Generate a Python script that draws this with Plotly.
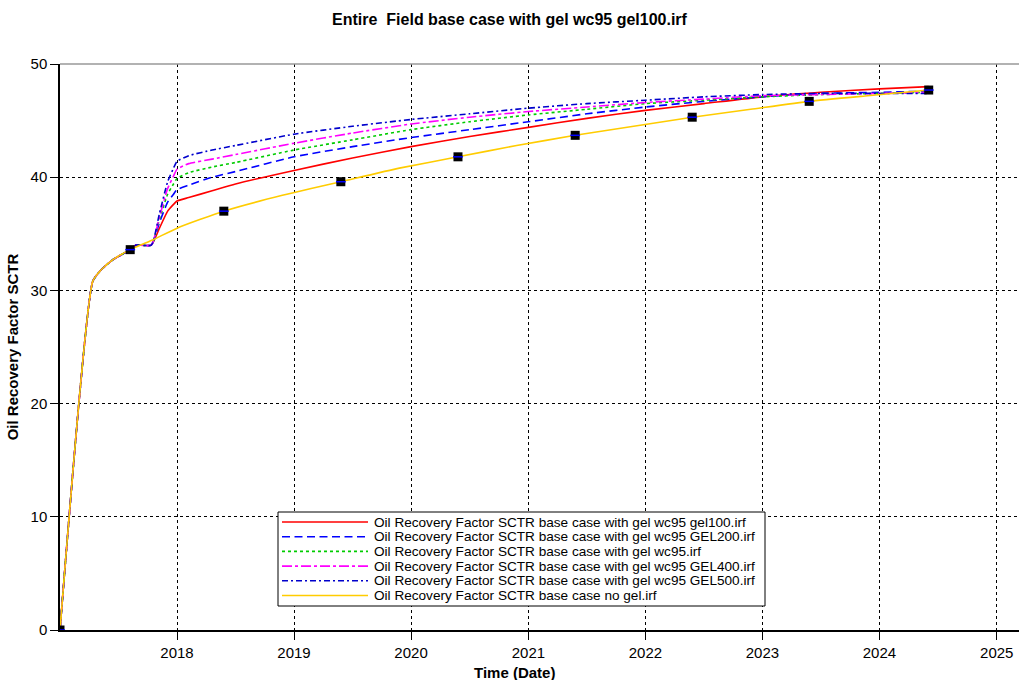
import datetime as dt
import plotly.graph_objects as go

def to_date(y):
    year = int(y)
    start = dt.datetime(year, 1, 1)
    end = dt.datetime(year + 1, 1, 1)
    return start + (end - start) * (y - year)

# decimal years and values
t_base = [2017.0, 2017.28, 2017.35, 2017.45, 2017.6, 2017.8, 2018.0, 2018.4, 2018.9, 2019.4,
          2019.9, 2020.4, 2020.9, 2021.4, 2021.9, 2022.4, 2022.9, 2023.4, 2023.9, 2024.42]
v_nogel = [0, 30.8, 31.8, 32.7, 33.6, 34.5, 35.5, 37.0, 38.4, 39.6,
           40.8, 41.8, 42.8, 43.7, 44.5, 45.3, 46.0, 46.7, 47.2, 47.7]

t_gel = [2017.0, 2017.28, 2017.35, 2017.45, 2017.6, 2017.65, 2017.78, 2017.85, 2017.92, 2017.97,
         2018.0, 2018.1, 2018.3, 2018.5, 2019.0, 2019.5, 2020.0, 2020.5, 2021.0, 2021.5,
         2022.0, 2022.5, 2023.0, 2023.5, 2024.0, 2024.42]
v_gel100 = [0, 30.8, 31.8, 32.7, 33.6, 34.0, 34.0, 35.5, 37.0, 37.6,
            37.9, 38.2, 38.8, 39.4, 40.6, 41.7, 42.7, 43.6, 44.4, 45.2,
            45.9, 46.5, 47.1, 47.5, 47.8, 48.0]
v_gel200 = [0, 30.8, 31.8, 32.7, 33.6, 34.0, 34.0, 36.0, 37.8, 38.5,
            38.9, 39.3, 40.0, 40.5, 41.8, 42.7, 43.5, 44.2, 44.9, 45.6,
            46.2, 46.7, 47.1, 47.4, 47.5, 47.6]
v_gelwc95 = [0, 30.8, 31.8, 32.7, 33.6, 34.0, 34.0, 36.3, 38.5, 39.4,
             39.9, 40.4, 40.9, 41.3, 42.4, 43.3, 44.2, 44.9, 45.5, 46.0,
             46.5, 46.8, 47.1, 47.3, 47.4, 47.5]
v_gel400 = [0, 30.8, 31.8, 32.7, 33.6, 34.0, 34.0, 36.5, 39.0, 40.1,
            40.7, 41.2, 41.6, 42.0, 43.0, 43.9, 44.7, 45.3, 45.8, 46.2,
            46.6, 46.9, 47.2, 47.3, 47.4, 47.5]
v_gel500 = [0, 30.8, 31.8, 32.7, 33.6, 34.0, 34.0, 36.8, 39.6, 40.8,
            41.4, 41.9, 42.4, 42.8, 43.8, 44.5, 45.1, 45.6, 46.1, 46.5,
            46.8, 47.1, 47.3, 47.4, 47.4, 47.4]

t_marks = [2017.0, 2017.6, 2018.4, 2019.4, 2020.4, 2021.4, 2022.4, 2023.4, 2024.42]
v_marks = [0, 33.6, 37.0, 39.6, 41.8, 43.7, 45.3, 46.7, 47.7]

names = [
    "Oil Recovery Factor SCTR base case with gel wc95 gel100.irf",
    "Oil Recovery Factor SCTR base case with gel wc95 GEL200.irf",
    "Oil Recovery Factor SCTR base case with gel wc95.irf",
    "Oil Recovery Factor SCTR base case with gel wc95 GEL400.irf",
    "Oil Recovery Factor SCTR base case with gel wc95 GEL500.irf",
    "Oil Recovery Factor SCTR base case no gel.irf",
]
colors = ["#ff0000", "#0000ff", "#00cc00", "#ff00ff", "#0000cc", "#ffcc00"]
dashes = ["solid", "8px,4.5px", "3px,3px", "10px,3px,3px,3px", "6px,3px,2px,3px", "solid"]
series = [v_gel100, v_gel200, v_gelwc95, v_gel400, v_gel500]

xg = [to_date(t) for t in t_gel]
xb = [to_date(t) for t in t_base]
xm = [to_date(t) for t in t_marks]

fig = go.Figure()
for vals, col, dash, nm in zip(series, colors[:5], dashes[:5], names[:5]):
    fig.add_trace(go.Scatter(x=xg, y=vals, mode="lines", name=nm, showlegend=False,
                             line=dict(color=col, width=1.6, dash=dash, shape="spline", smoothing=0.5)))
fig.add_trace(go.Scatter(x=xb, y=v_nogel, mode="lines", name=names[5], showlegend=False,
                         line=dict(color=colors[5], width=1.6, shape="spline", smoothing=0.5)))
fig.add_trace(go.Scatter(x=xm, y=v_marks, mode="markers", showlegend=False,
                         marker=dict(symbol="square", size=9, color="black")))
fig.add_trace(go.Scatter(x=xm, y=v_marks, mode="markers", showlegend=False,
                         marker=dict(symbol="line-ew", size=7, line=dict(color="#0000ff", width=1.5))))

# plot-area geometry (pixels) for the hand-drawn legend box
W, H = 1019, 680
ML, MR, MT, MB = 60, 0, 64, 50
pw, ph = W - ML - MR, H - MT - MB
px = lambda x: (x - ML) / pw
py = lambda y: (H - MB - y) / ph

fig.add_shape(type="line", xref="paper", yref="paper", x0=0, x1=1, y0=1, y1=1,
              line=dict(color="#999999", width=1.5))

# legend
fig.add_shape(type="rect", xref="paper", yref="paper",
              x0=px(278), x1=px(765), y0=py(606), y1=py(512),
              line=dict(color="black", width=1), fillcolor="white", layer="above")
for i, (nm, col, dash) in enumerate(zip(names, colors, dashes)):
    yy = 522 + i * 14.7
    fig.add_shape(type="line", xref="paper", yref="paper",
                  x0=px(282), x1=px(368), y0=py(yy), y1=py(yy),
                  line=dict(color=col, width=1.6, dash=dash), layer="above")
    fig.add_annotation(xref="paper", yref="paper", x=px(372), y=py(yy),
                       xanchor="left", yanchor="middle", showarrow=False,
                       text=nm, font=dict(size=13.6, color="black"))

font = "Liberation Sans, Arial, sans-serif"
fig.add_annotation(xref="paper", yref="paper", x=px(514), y=py(672),
                   xanchor="center", yanchor="middle", showarrow=False,
                   text="<b>Time (Date)</b>", font=dict(size=15, color="black"))

fig.update_layout(
    width=W, height=H,
    margin=dict(l=ML, r=MR, t=MT, b=MB),
    paper_bgcolor="white", plot_bgcolor="white",
    font=dict(family=font, color="black", size=15),
    title=dict(text="<b>Entire \u00a0Field base case with gel wc95 gel100.irf</b>",
               x=0.5, xanchor="center", y=1 - 19 / H, yanchor="middle",
               font=dict(size=16, family=font)),
    xaxis=dict(
        type="date",
        range=[to_date(2017.0), to_date(2025.19)],
        tickvals=[to_date(y) for y in range(2018, 2026)],
        ticktext=[str(y) for y in range(2018, 2026)],
        ticks="outside", ticklen=8, tickcolor="black",
        showline=True, linecolor="black", linewidth=1.5,
        showgrid=True, gridcolor="black", griddash="dot", gridwidth=1,
        zeroline=False,
        tickfont=dict(size=15),
    ),
    yaxis=dict(
        range=[0, 50],
        tickvals=[0, 10, 20, 30, 40, 50],
        ticks="outside", ticklen=8, tickcolor="black",
        showline=True, linecolor="black", linewidth=1.5,
        showgrid=True, gridcolor="black", griddash="dot", gridwidth=1,
        zeroline=False,
        title=dict(text="<b>Oil Recovery Factor SCTR</b>", font=dict(size=15), standoff=8),
        tickfont=dict(size=15),
    ),
)

fig.write_html("out.html")
